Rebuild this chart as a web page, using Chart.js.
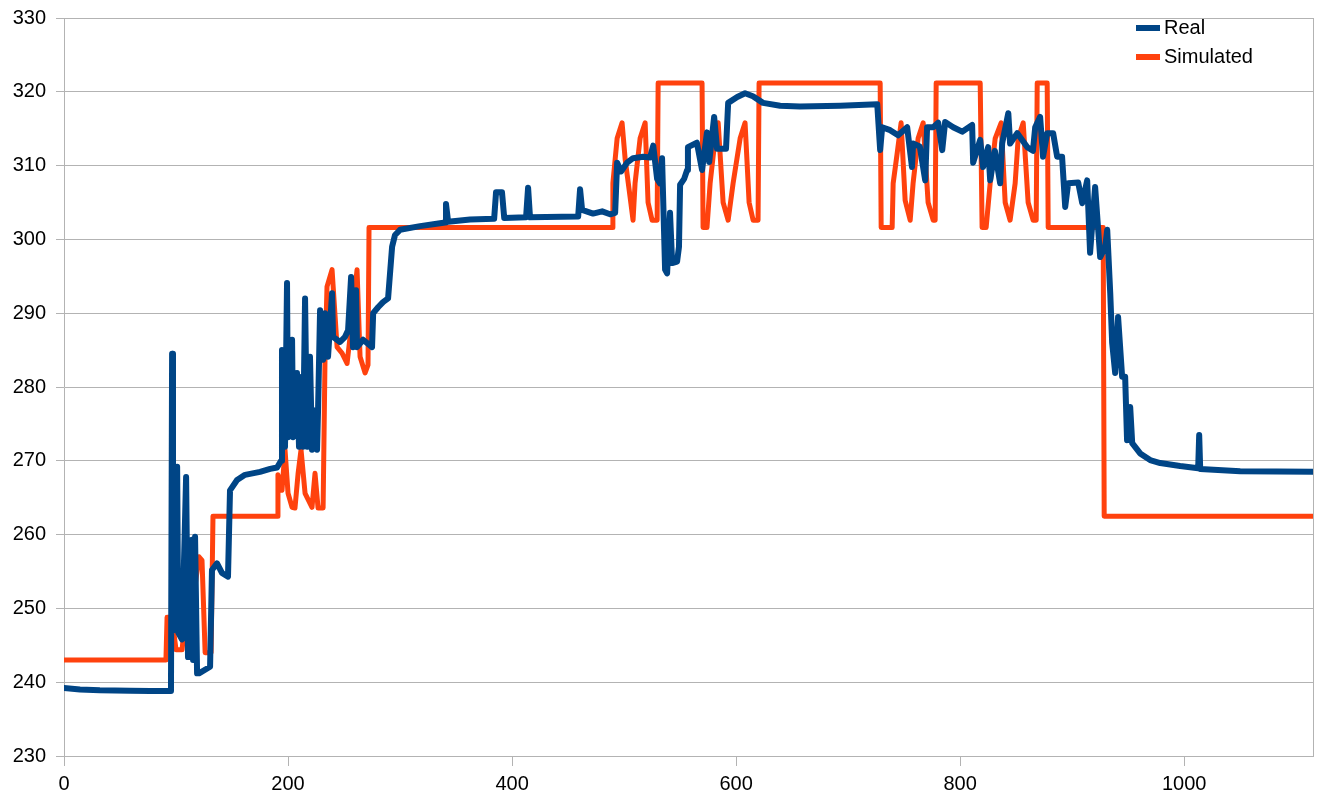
<!DOCTYPE html>
<html>
<head>
<meta charset="utf-8">
<script src="https://cdn.jsdelivr.net/npm/chart.js@4.4.1/dist/chart.umd.min.js"></script>
<style>
  html, body { margin: 0; padding: 0; background: #ffffff; }
  #wrap { width: 1319px; height: 800px; position: relative; }
</style>
</head>
<body>
<div id="wrap"><canvas id="c"></canvas></div>
<script>
// ---- Data ----
const seriesNames = ["Real", "Simulated"];

const realX = [0, 14.3, 32, 59, 77, 95.5, 96.5, 97.3, 101, 102, 105.4, 109, 110.7, 114.3, 115.2, 117, 118.8, 120.5, 130.4, 132.1, 136.6, 141, 146.4, 148.2, 154.5, 161.6, 175, 184, 190.2, 193.8, 194.6, 197.3, 199.1, 200, 203.6, 204.5, 208, 209.8, 212.5, 213.4, 215.2, 217, 219.6, 221.4, 222.3, 225.9, 226.8, 228.6, 231.3, 233, 235.7, 239.3, 240.2, 246.4, 250.9, 253.6, 256.3, 258, 260.7, 261.6, 267, 275, 276, 280.4, 284.8, 289.3, 292.9, 295.5, 300, 317.9, 335.7, 340.2, 341, 342.9, 362.5, 384, 385.7, 391, 393, 412.5, 414.3, 416, 459, 460.7, 462.5, 472.3, 480.4, 487.5, 492, 493.8, 497.3, 502.7, 508, 517, 523.2, 526, 529.5, 532, 533.9, 536.6, 538.4, 541, 542.9, 547.3, 549, 550, 553.6, 556.3, 557, 565, 569.6, 574, 576, 580.4, 583, 591, 592.9, 601, 608, 615, 624, 639.3, 657, 693, 726, 728.6, 730.4, 737.5, 744.6, 752.7, 757, 758, 764, 768.8, 770.5, 776, 780.4, 784, 786.6, 793.8, 801.8, 810.7, 811.6, 817.9, 820.5, 825, 826.8, 831, 835.7, 837.5, 843, 844.6, 851, 860, 865, 867, 871.4, 874, 877.7, 883, 886.6, 891, 893.8, 896.4, 905.4, 909, 913.4, 916, 920.5, 925, 929.5, 931.3, 934, 935.7, 938.4, 941, 944.6, 947.3, 949, 951.8, 953.6, 960.7, 969.6, 978.6, 996.4, 1012.5, 1013.4, 1014.3, 1050, 1115];
const realY = [239.2, 239.0, 238.9, 238.85, 238.8, 238.8, 284.5, 247, 269.2, 246.7, 245.8, 267.8, 243.4, 259.3, 243, 259.7, 241.2, 241.2, 242.1, 255.2, 256.1, 254.8, 254.3, 266, 267.4, 268.1, 268.5, 268.9, 269.1, 270, 285, 271.9, 294.1, 273.2, 286.4, 273.2, 281.9, 271.9, 281.4, 271.9, 292, 271.9, 284.1, 271.5, 276.9, 271.5, 276.9, 290.4, 283.7, 290, 284.1, 292.7, 286.8, 286.1, 286.8, 287.7, 294.9, 285.4, 293.1, 285.4, 286.4, 285.4, 290, 290.8, 291.5, 292, 299, 300.6, 301.3, 301.8, 302.2, 302.3, 304.8, 302.4, 302.7, 302.8, 306.4, 306.4, 302.9, 303, 307, 303, 303.1, 306.8, 304, 303.5, 303.8, 303.4, 303.6, 310.4, 309.2, 310.4, 311, 311.2, 311.1, 312.7, 308.2, 307.6, 311, 295.9, 295.4, 303.6, 296.8, 297, 299, 307.4, 308.2, 309.4, 312.5, 313.1, 309.4, 314.5, 310.5, 316.6, 312.3, 312.3, 318.5, 319.3, 319.8, 319.4, 318.5, 318.1, 318, 318.1, 318.3, 312.1, 315.2, 314.8, 314.1, 315.2, 309.8, 313, 312.6, 308, 315.2, 315.2, 315.8, 312.1, 315.9, 315.2, 314.6, 315.5, 310.4, 313.5, 309.8, 312.5, 308, 312, 307.6, 313, 317.1, 313, 314.4, 312.5, 312, 315.2, 316.6, 311.2, 314.4, 314.4, 311.2, 311.2, 304.4, 307.6, 307.7, 304.9, 308, 298.2, 307.1, 297.6, 299, 301.3, 292.7, 286, 281.9, 289.5, 281.4, 281.4, 272.8, 277.3, 272.4, 271, 270.1, 269.7, 269.3, 269, 273.5, 268.9, 268.6, 268.5];

const simX = [0, 91, 92, 96.4, 100, 105.4, 109, 112.5, 117, 120.5, 123.2, 126, 131.3, 133, 190.2, 191, 194.6, 197.3, 200, 203.6, 206.2, 209, 211.6, 215.2, 221.4, 224.1, 226.8, 231.3, 233, 234.8, 239.3, 243.8, 248.2, 252.7, 255.4, 261.6, 264.3, 268.8, 271.4, 272.3, 489.3, 490, 493.8, 498.2, 501, 505.4, 508, 509.8, 514.3, 518.8, 521.4, 525, 529.5, 530.4, 569.6, 570.5, 574, 576.8, 581.3, 584, 588.4, 592.9, 597.3, 603.6, 608, 611.6, 615.2, 619.6, 620.5, 728.6, 729.5, 739.3, 740.2, 743.8, 747.3, 750.9, 755.4, 758, 762.5, 767, 771.4, 776, 777.7, 778.6, 817.9, 819.6, 823.2, 826.8, 831.3, 836.6, 840.2, 844.6, 849.1, 851.8, 856.3, 860.7, 865.2, 867.9, 868.8, 877.7, 878.6, 927.7, 928.6, 1115];
const simY = [243, 243, 248.8, 248.8, 244.4, 244.4, 250, 245, 253, 257, 256.5, 244, 244, 262.5, 262.5, 268.1, 266, 271.5, 265.6, 263.7, 263.6, 268.3, 271.5, 265.6, 263.7, 268.3, 263.6, 263.6, 283.7, 293.6, 295.9, 285.4, 284.6, 283.2, 286.8, 295.9, 284.1, 281.9, 283, 301.6, 301.6, 307.6, 313.7, 315.8, 310.8, 305.7, 302.6, 307.6, 313.7, 315.8, 305, 302.6, 302.6, 321.2, 321.2, 301.6, 301.6, 307.6, 313.7, 315.8, 305, 302.6, 307.6, 313.7, 315.8, 305, 302.6, 302.6, 321.2, 321.2, 301.6, 301.6, 307.6, 311.7, 315.8, 305.3, 302.6, 307.6, 313.7, 315.8, 305, 302.6, 302.6, 321.2, 321.2, 301.6, 301.6, 307.6, 313.7, 315.8, 305, 302.6, 307.6, 313.7, 315.8, 305, 302.6, 302.6, 321.2, 321.2, 301.6, 301.6, 262.5, 262.5];

const xMin = 0, xMax = 1115, xStep = 200;
const yMin = 230, yMax = 330, yStep = 10;

// ---- Styles ----
const COLORS = ["#004586", "#ff420e"];
const GRID = "#b3b3b3";
const FONT = "'Liberation Sans', Arial, sans-serif";

function toPoints(xs, ys) { return xs.map((x, i) => ({ x: x, y: ys[i] })); }

const legendPlugin = {
  id: 'insideLegend',
  afterDraw(chart) {
    const ctx = chart.ctx;
    const area = chart.chartArea;
    ctx.save();
    // right border of plot area
    ctx.strokeStyle = GRID;
    ctx.lineWidth = 1;
    ctx.beginPath();
    ctx.moveTo(Math.round(area.right) + 0.5, area.top);
    ctx.lineTo(Math.round(area.right) + 0.5, area.bottom);
    ctx.stroke();
    // legend
    ctx.font = "20px " + FONT;
    ctx.textBaseline = 'middle';
    ctx.textAlign = 'left';
    chart.data.datasets.forEach((ds, i) => {
      const y = area.top + 10 + i * 29;
      const x0 = area.right - 177;
      ctx.strokeStyle = ds.borderColor;
      ctx.lineWidth = 6;
      ctx.lineCap = 'butt';
      ctx.beginPath();
      ctx.moveTo(x0, y);
      ctx.lineTo(x0 + 24, y);
      ctx.stroke();
      ctx.fillStyle = '#000000';
      ctx.fillText(ds.label, x0 + 28, y);
    });
    ctx.restore();
  }
};

new Chart(document.getElementById('c'), {
  type: 'line',
  data: {
    datasets: [
      { label: seriesNames[0], data: toPoints(realX, realY), borderColor: COLORS[0], backgroundColor: COLORS[0],
        borderWidth: 6, pointRadius: 0, tension: 0, borderJoinStyle: 'round', borderCapStyle: 'round', fill: false },
      { label: seriesNames[1], data: toPoints(simX, simY), borderColor: COLORS[1], backgroundColor: COLORS[1],
        borderWidth: 5, pointRadius: 0, tension: 0, borderJoinStyle: 'round', borderCapStyle: 'round', fill: false }
    ]
  },
  options: {
    responsive: true,
    maintainAspectRatio: false,
    devicePixelRatio: 1,
    animation: false,
    layout: { padding: { top: 18, right: 6, left: 0, bottom: 0 } },
    plugins: { legend: { display: false }, tooltip: { enabled: false } },
    scales: {
      x: {
        type: 'linear', min: xMin, max: xMax,
        afterFit(scale) { scale.height = 44; scale.paddingLeft = 0; scale.paddingRight = 0; },
        ticks: { stepSize: xStep, includeBounds: false, color: '#000000', font: { family: FONT, size: 20 }, padding: 6, maxRotation: 0,
                 callback: (v) => String(v) },
        grid: { drawOnChartArea: false, color: GRID, tickLength: 10 },
        border: { color: GRID }
      },
      y: {
        min: yMin, max: yMax,
        afterFit(scale) { scale.width = 64; scale.paddingTop = 0; scale.paddingBottom = 0; },
        ticks: { stepSize: yStep, color: '#000000', font: { family: FONT, size: 20 }, padding: 10 },
        grid: { color: GRID, tickLength: 8 },
        border: { color: GRID }
      }
    }
  },
  plugins: [legendPlugin]
});
</script>
</body>
</html>
